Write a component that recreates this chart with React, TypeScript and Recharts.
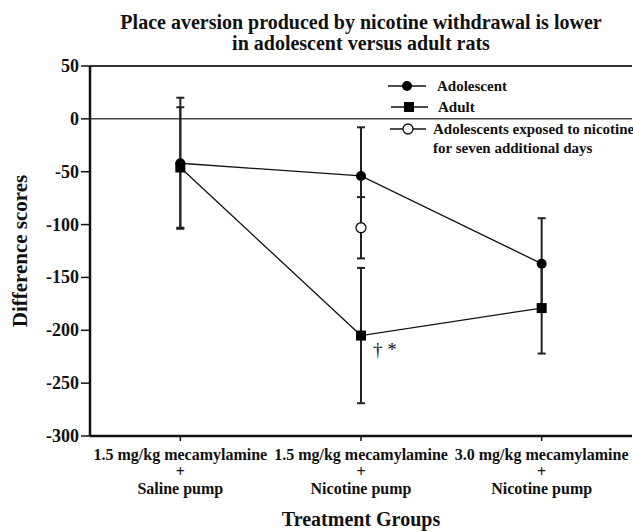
import { ComposedChart, Line, XAxis, YAxis, ErrorBar, ReferenceLine, LabelList } from 'recharts';

const doses = ['1.5 mg/kg mecamylamine', '1.5 mg/kg mecamylamine', '3.0 mg/kg mecamylamine'];
const pumps = ['Saline pump', 'Nicotine pump', 'Nicotine pump'];
const adolescent = [-42, -54, -137];
const adolescentErr = [62, 46, 43];
const adult = [-46, -205, -179];
const adultErr = [57, 64, 43];
const extended = [null, -103, null];
const extendedErr = [null, 29, null];
const yTicks = [50, 0, -50, -100, -150, -200, -250, -300];

const data = doses.map((d, i) => ({
  group: i,
  adolescent: adolescent[i],
  adolescentErr: adolescentErr[i],
  adult: adult[i],
  adultErr: adultErr[i],
  extended: extended[i],
  extendedErr: extendedErr[i],
}));

const serif = 'Liberation Serif, DejaVu Serif, serif';
const ink = '#111';

function GroupTick({ x, y, payload }: any) {
  const i = payload.value;
  return (
    <text x={x} y={y} textAnchor="middle" style={{ fontFamily: serif, fontWeight: 'bold', fontSize: 16, fill: ink }}>
      <tspan x={x} dy={17}>{doses[i]}</tspan>
      <tspan x={x} dy={17}>+</tspan>
      <tspan x={x} dy={17}>{pumps[i]}</tspan>
    </text>
  );
}

function ScoreTick({ x, y, payload }: any) {
  return (
    <text x={x} y={y} dy={6} textAnchor="end" style={{ fontFamily: serif, fontWeight: 'bold', fontSize: 18, fill: ink }}>
      {payload.value}
    </text>
  );
}

// legend drawn as an overlay so it doesn't push the plot area down
function LegendBox() {
  const txt = { style: { fontFamily: serif, fontWeight: 'bold' as const, fontSize: 15, fill: ink } };
  return (
    <svg width={250} height={85} style={{ position: 'absolute', left: 385, top: 76 }}>
      <line x1={3} y1={10} x2={41} y2={10} stroke={ink} strokeWidth={1.5} />
      <circle cx={22} cy={10} r={5} fill="#000" />
      <text x={52} y={15} {...txt}>Adolescent</text>
      <line x1={6} y1={31} x2={43} y2={31} stroke={ink} strokeWidth={1.5} />
      <rect x={19} y={26} width={10} height={10} fill="#000" />
      <text x={53} y={36} {...txt}>Adult</text>
      <line x1={5} y1={53} x2={41} y2={53} stroke={ink} strokeWidth={1.5} />
      <circle cx={23} cy={53} r={5} fill="#fff" stroke={ink} strokeWidth={1.3} />
      <text x={48} y={58} {...txt}>Adolescents exposed to nicotine</text>
      <text x={48} y={77} {...txt}>for seven additional days</text>
    </svg>
  );
}

function SigMark({ x, y, index }: any) {
  if (index !== 1) return null;
  return (
    <text x={x + 12} y={y + 20} style={{ fontFamily: serif, fontSize: 19, fill: ink }}>† *</text>
  );
}

export default function App() {
  return (
    <div style={{ position: 'absolute', left: 0, top: 0, width: 633, height: 531, background: '#fff' }}>
      <div
        style={{
          position: 'absolute', left: 90, top: 12, width: 542, textAlign: 'center',
          fontFamily: serif, fontWeight: 'bold', fontSize: 20, lineHeight: '21px', color: ink,
        }}
      >
        Place aversion produced by nicotine withdrawal is lower
        <br />
        in adolescent versus adult rats
      </div>
      <ComposedChart width={633} height={531} data={data} margin={{ top: 66, right: 1, bottom: 0, left: 0 }}>
        <XAxis
          dataKey="group"
          scale="band"
          height={95}
          tick={<GroupTick />}
          tickLine={{ stroke: ink, strokeWidth: 1.5 }}
          tickSize={5}
          axisLine={{ stroke: ink, strokeWidth: 2.5 }}
          label={{
            value: 'Treatment Groups', position: 'insideBottom', offset: 5,
            style: { fontFamily: serif, fontWeight: 'bold', fontSize: 20, fill: ink },
          }}
        />
        <YAxis
          type="number"
          domain={[-300, 50]}
          ticks={yTicks}
          width={90}
          interval={0}
          tickSize={9}
          tickLine={{ stroke: ink, strokeWidth: 1.5 }}
          axisLine={{ stroke: ink, strokeWidth: 2.5 }}
          tick={<ScoreTick />}
          label={{
            value: 'Difference scores', angle: -90, position: 'insideLeft', offset: 20,
            style: { fontFamily: serif, fontWeight: 'bold', fontSize: 21, fill: ink, textAnchor: 'middle' },
          }}
        />
        <ReferenceLine y={50} stroke="#333" strokeWidth={2} />
        <ReferenceLine y={0} stroke="#444" strokeWidth={1.5} />
        <Line
          dataKey="adolescent"
          name="Adolescent"
          stroke={ink}
          strokeWidth={1.3}
          dot={{ r: 5, fill: '#000', stroke: '#000', strokeWidth: 0 }}
          isAnimationActive={false}
        >
          <ErrorBar dataKey="adolescentErr" width={4} stroke="#222" strokeWidth={2} />
        </Line>
        <Line
          dataKey="adult"
          name="Adult"
          stroke={ink}
          strokeWidth={1.3}
          dot={(p: any) => <rect key={p.index} x={p.cx - 5} y={p.cy - 5} width={10} height={10} fill="#000" />}
          isAnimationActive={false}
        >
          <ErrorBar dataKey="adultErr" width={4} stroke="#222" strokeWidth={2} />
          <LabelList dataKey="adult" content={<SigMark />} />
        </Line>
        <Line
          dataKey="extended"
          name="Adolescents exposed to nicotine for seven additional days"
          stroke="none"
          dot={{ r: 5, fill: '#fff', stroke: ink, strokeWidth: 1.3 }}
          isAnimationActive={false}
        >
          <ErrorBar dataKey="extendedErr" width={4} stroke="#222" strokeWidth={2} />
        </Line>
      </ComposedChart>
      <LegendBox />
    </div>
  );
}
